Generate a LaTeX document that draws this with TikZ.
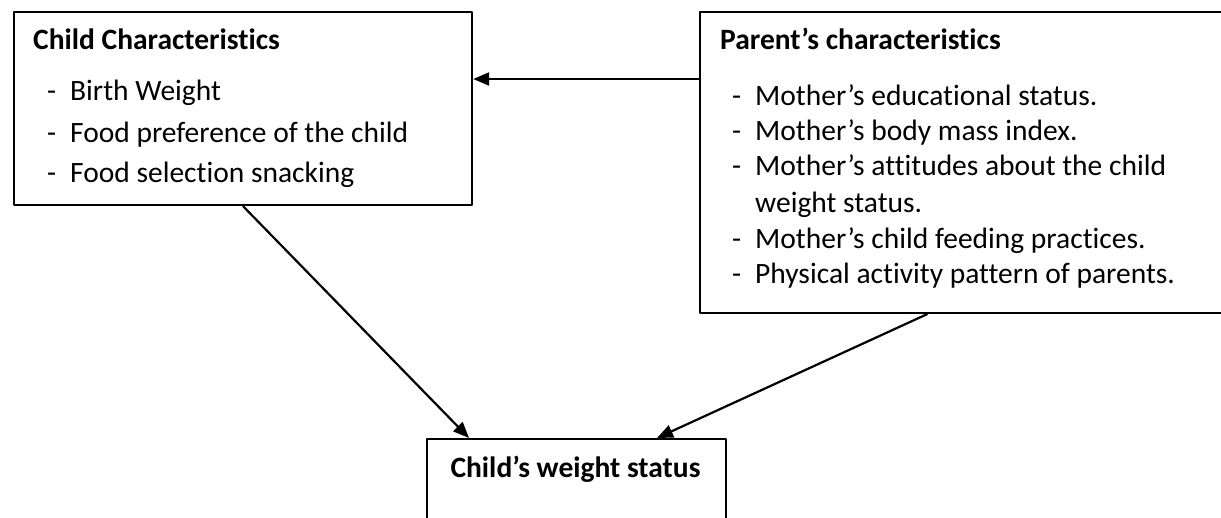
\documentclass[tikz,border=0pt]{standalone}
\usepackage{fontspec}
\setmainfont{Carlito}[Ligatures=NoCommon]
\usetikzlibrary{arrows.meta,calc}

\begin{document}
\begin{tikzpicture}[x=1pt,y=-1pt,line cap=round,line join=round,
  box/.style={draw,line width=2.2pt,rectangle,anchor=north west,inner sep=0pt},
  head/.style={anchor=base west,inner sep=0pt,font=\fontsize{29.5}{34}\selectfont\bfseries},
  item/.style={anchor=base west,inner sep=0pt,font=\fontsize{29.5}{34}\selectfont},
  arr/.style={line width=2.2pt,-{Triangle[length=16pt,width=13pt]}}]
\useasboundingbox (0,0) rectangle (1221,517);
\clip (0,0) rectangle (1221,517);

% child box
\node[box,minimum width=458pt,minimum height=193pt] (childbox) at (13,11) {};
\node[head] (childhead) at (33,49) {Child Characteristics};
\node[item] (birth) at (47,100) {\makebox[23pt][l]{-}Birth Weight};
\node[item] (pref) at (47,142) {\makebox[23pt][l]{-}Food preference of the child};
\node[item] (snack) at (47,182) {\makebox[23pt][l]{-}Food selection snacking};

% parent box (runs past the right edge)
\node[box,minimum width=540pt,minimum height=301pt] (parentbox) at (699,11) {};
\node[head] (parenthead) at (720,49) {Parent’s characteristics};
\node[item] (educ) at (732,105) {\makebox[23pt][l]{-}Mother’s educational status.};
\node[item] (bmi) at (732,140) {\makebox[23pt][l]{-}Mother’s body mass index.};
\node[item] (attit) at (732,175) {\makebox[23pt][l]{-}Mother’s attitudes about the child};
\node[item] (attit2) at (755,212) {weight status.};
\node[item] (feed) at (732,248) {\makebox[23pt][l]{-}Mother’s child feeding practices.};
\node[item] (phys) at (732,283) {\makebox[23pt][l]{-}Physical activity pattern of parents.};

% weight status box (runs past the bottom)
\node[box,minimum width=299pt,minimum height=120pt] (wbox) at (426,438) {};
\node[head,anchor=base] (whead) at (575.5,477) {Child’s weight status};

% arrows
\coordinate (pout) at ($(parentbox.north west)+(0,68)$);
\draw[arr] (pout) -- (childbox.east |- pout);
\draw[arr] (childbox.south) -- ($(wbox.north west)+(43,0)$);
\draw[arr] ($(parentbox.south west)+(228,0)$) -- ($(wbox.north west)+(231,0)$);

\end{tikzpicture}
\end{document}
